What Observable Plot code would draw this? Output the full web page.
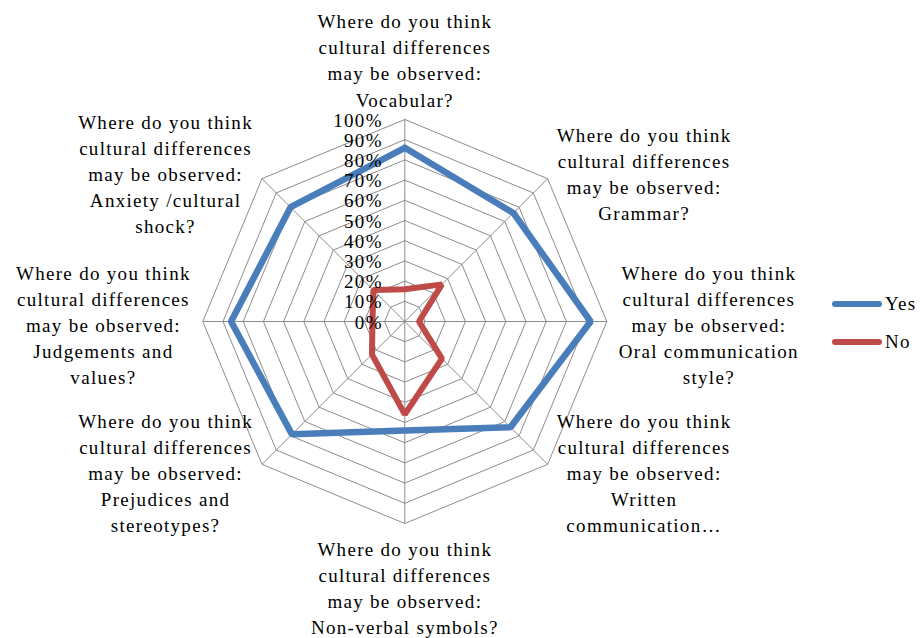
<!DOCTYPE html>
<html>
<head>
<meta charset="utf-8">
<script src="https://cdn.jsdelivr.net/npm/d3@7"></script>
<script src="https://cdn.jsdelivr.net/npm/@observablehq/plot@0.6"></script>
<style>
  html, body { margin: 0; padding: 0; background: #fff; }
  #wrap { position: relative; width: 924px; height: 638px; font-family: "Liberation Serif", "Times New Roman", serif; }
  #wrap svg text { letter-spacing: 1.3px; }
  .legend { position: absolute; left: 832px; font-size: 19px; letter-spacing: 1.3px; color: #000; }
  .legend .item { position: absolute; left: 0; display: flex; align-items: center; white-space: nowrap; }
  .legend .sw { width: 50px; height: 6px; border-radius: 3px; margin-right: 3px; }
</style>
</head>
<body>
<div id="wrap"></div>
<script>
const categories = [
  "Where do you think\ncultural differences\nmay be observed:\nVocabular?",
  "Where do you think\ncultural differences\nmay be observed:\nGrammar?",
  "Where do you think\ncultural differences\nmay be observed:\nOral communication\nstyle?",
  "Where do you think\ncultural differences\nmay be observed:\nWritten\ncommunication…",
  "Where do you think\ncultural differences\nmay be observed:\nNon-verbal symbols?",
  "Where do you think\ncultural differences\nmay be observed:\nPrejudices and\nstereotypes?",
  "Where do you think\ncultural differences\nmay be observed:\nJudgements and\nvalues?",
  "Where do you think\ncultural differences\nmay be observed:\nAnxiety /cultural\nshock?"
];
const yesValues = [86, 76, 92, 74, 54, 79, 86, 80];
const noValues  = [16, 26, 7, 26, 46, 23, 16, 22];
const tickValues = [0, 10, 20, 30, 40, 50, 60, 70, 80, 90, 100];
const tickLabels = ["0%", "10%", "20%", "30%", "40%", "50%", "60%", "70%", "80%", "90%", "100%"];
const seriesNames = ["Yes", "No"];
const seriesColors = ["#4a7ebb", "#be4b48"];

const n = categories.length;
const ang = i => i * 2 * Math.PI / n;
const px = (i, v) => (v / 100) * Math.sin(ang(i));
const py = (i, v) => (v / 100) * Math.cos(ang(i));

// grid rings
const rings = tickValues.slice(1).flatMap(t =>
  d3.range(n + 1).map(i => ({ring: t, x: px(i % n, t), y: py(i % n, t)})));
const spokes = categories.map((c, i) => ({x1: 0, y1: 0, x2: px(i, 100), y2: py(i, 100)}));

function seriesPts(vals, name) {
  return d3.range(n + 1).map(i => ({series: name, x: px(i % n, vals[i % n]), y: py(i % n, vals[i % n])}));
}
const yesPts = seriesPts(yesValues, "Yes");
const noPts = seriesPts(noValues, "No");

// measure label widths
const FONT = "19px 'Liberation Serif'";
const cv = document.createElement("canvas").getContext("2d");
cv.font = FONT;
const blockWidth = s => d3.max(s.split("\n"), l => cv.measureText(l).width + l.length * 1.3);

const labelMarks = categories.map((c, i) => {
  const s = Math.round(Math.sin(ang(i)) * 1000) / 1000;
  const co = Math.round(Math.cos(ang(i)) * 1000) / 1000;
  const d = [{x: px(i, 100), y: py(i, 100), t: c}];
  if (s === 0) {
    return Plot.text(d, {x: "x", y: "y", text: "t", textAnchor: "middle",
      lineAnchor: co > 0 ? "bottom" : "top", dy: co > 0 ? -13 : 14,
      fontSize: 19, lineHeight: 1.37, fill: "#000"});
  }
  const w = blockWidth(c);
  const gap = Math.abs(co) < 0.01 ? 12 : 9;
  return Plot.text(d, {x: "x", y: "y", text: "t", textAnchor: "middle", lineAnchor: "middle",
    dx: Math.sign(s) * (gap + w / 2), dy: co > 0 ? -6 : (co < 0 ? 7 : 2),
    fontSize: 19, lineHeight: 1.37, fill: "#000"});
});

const R = 202;
const cx = 404.3, cy = 321;
const chart = Plot.plot({
  width: 924,
  height: 638,
  marginLeft: cx - R,
  marginRight: 924 - (cx + R),
  marginTop: cy - R,
  marginBottom: 638 - (cy + R),
  x: {domain: [-1, 1], axis: null},
  y: {domain: [-1, 1], axis: null},
  style: {fontFamily: "'Liberation Serif', 'Times New Roman', serif", overflow: "visible", background: "#fff"},
  marks: [
    Plot.line(rings, {x: "x", y: "y", z: "ring", stroke: "#8c8c8c", strokeWidth: 1}),
    Plot.link(spokes, {x1: "x1", y1: "y1", x2: "x2", y2: "y2", stroke: "#8c8c8c", strokeWidth: 1}),
    Plot.line(yesPts, {x: "x", y: "y", stroke: seriesColors[0], strokeWidth: 6.5, strokeLinejoin: "miter", strokeLinecap: "round"}),
    Plot.line(noPts, {x: "x", y: "y", stroke: seriesColors[1], strokeWidth: 6, strokeLinejoin: "miter", strokeLinecap: "round"}),
    Plot.text(tickValues, {x: () => 0, y: d => d / 100, text: (d, i) => tickLabels[i],
      textAnchor: "end", lineAnchor: "middle", dx: -22, dy: 1, fontSize: 19, fill: "#000"}),
    ...labelMarks
  ]
});

const wrap = document.getElementById("wrap");
wrap.appendChild(chart);

const legend = document.createElement("div");
legend.className = "legend";
legend.style.top = "0px";
seriesNames.forEach((name, i) => {
  const item = document.createElement("div");
  item.className = "item";
  item.style.top = (292 + i * 38) + "px";
  item.style.height = "24px";
  const sw = document.createElement("div");
  sw.className = "sw";
  sw.style.background = seriesColors[i];
  const tx = document.createElement("span");
  tx.textContent = name;
  item.appendChild(sw);
  item.appendChild(tx);
  legend.appendChild(item);
});
wrap.appendChild(legend);
</script>
</body>
</html>
